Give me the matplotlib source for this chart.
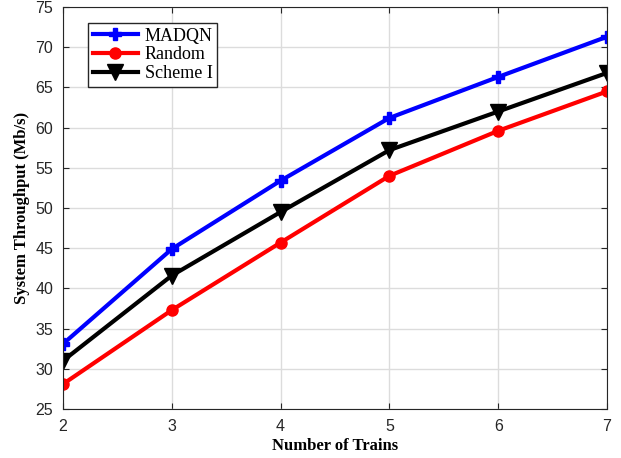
import matplotlib.pyplot as plt
import numpy as np

trains = [2, 3, 4, 5, 6, 7]
madqn = [33.1, 44.9, 53.4, 61.2, 66.3, 71.3]
random_ = [28.1, 37.3, 45.7, 54.0, 59.6, 64.5]
scheme1 = [31.0, 41.6, 49.5, 57.2, 62.0, 66.8]

fig = plt.figure(figsize=(6.21, 4.58), dpi=100)
ax = fig.add_axes([63 / 621, 1 - 409 / 458, 544 / 621, 402 / 458])

ax.plot(trains, madqn, color='blue', lw=3, marker='P', markersize=9, label='MADQN')
ax.plot(trains, random_, color='red', lw=3, marker='o', markersize=8,
        markerfacecolor='red', label='Random')
ax.plot(trains, scheme1, color='black', lw=3, marker='v', markersize=11, label='Scheme I')

ax.set_xlim(2, 7)
ax.set_ylim(25, 75)
ax.set_xticks(trains)
ax.set_yticks(np.arange(25, 76, 5))
ax.grid(True, color='#dcdcdc', lw=1)
ax.set_axisbelow(True)
ax.tick_params(direction='in', length=4, labelsize=11.5, colors='#262626', top=True, right=True,
               labeltop=False, labelright=False, pad=7)
for lbl in ax.get_xticklabels() + ax.get_yticklabels():
    lbl.set_family(['Liberation Sans', 'DejaVu Sans'])
for s in ax.spines.values():
    s.set_color('#262626')

serif = ['Liberation Serif', 'DejaVu Serif']
ax.set_xlabel('Number of Trains', fontsize=12, fontweight='bold', family=serif, labelpad=3)
ax.set_ylabel('System Throughput (Mb/s)', fontsize=12, fontweight='bold', family=serif)

leg = ax.legend(loc='upper left', bbox_to_anchor=(0.046, 0.96), fancybox=False,
                edgecolor='#262626', framealpha=1, prop={'family': serif, 'size': 13},
                handlelength=2.5, borderpad=0.25, labelspacing=0.1, handletextpad=0.4,
                borderaxespad=0)
leg.get_frame().set_linewidth(1)

fig.savefig('out.png', dpi=100)
